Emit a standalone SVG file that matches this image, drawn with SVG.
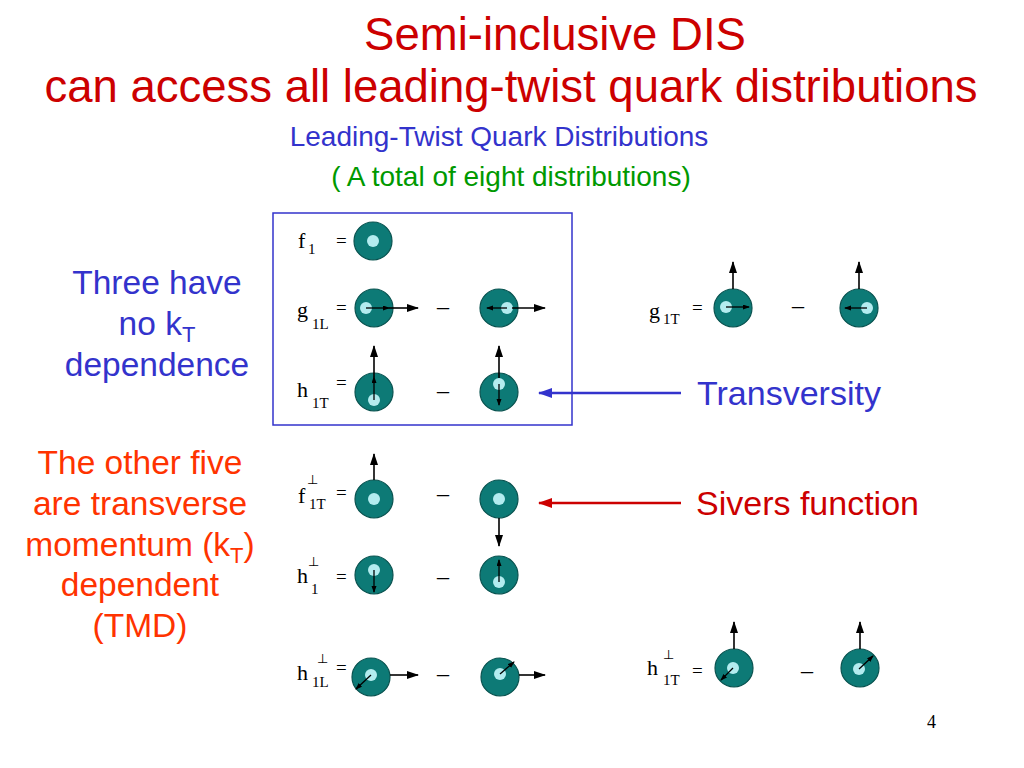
<svg xmlns="http://www.w3.org/2000/svg" width="1024" height="768" viewBox="0 0 1024 768">
<defs>
<marker id="big" markerUnits="userSpaceOnUse" markerWidth="12" markerHeight="9" refX="11" refY="4" orient="auto"><path d="M0,0 L12,4 L0,8 z" fill="#000"/></marker>
<marker id="sm" markerUnits="userSpaceOnUse" markerWidth="7" markerHeight="6" refX="6" refY="2.5" orient="auto"><path d="M0,0 L7,2.5 L0,5 z" fill="#000"/></marker>
<marker id="blueHead" markerUnits="userSpaceOnUse" markerWidth="14" markerHeight="10" refX="13" refY="5" orient="auto"><path d="M0,0 L14,5 L0,10 z" fill="#3333cc"/></marker>
<marker id="redHead" markerUnits="userSpaceOnUse" markerWidth="14" markerHeight="10" refX="13" refY="5" orient="auto"><path d="M0,0 L14,5 L0,10 z" fill="#cc0000"/></marker>
</defs>
<style>
.sans{font-family:"Liberation Sans",Arial,sans-serif}
.serif{font-family:"Liberation Serif","DejaVu Serif",serif;fill:#000}
.lab{font-size:22px}
.sub{font-size:15px}
.perp{font-size:13px;font-family:"DejaVu Sans","Liberation Serif",serif}
.eq{font-size:19px}
.mn{font-size:24px}
.q{fill:#0d7a76;stroke:#0a5350;stroke-width:1.2}
.d{fill:#b3ecef}
.a{stroke:#000;stroke-width:1.6;fill:none}
.asm{stroke:#000;stroke-width:1.3;fill:none}
</style>
<rect width="1024" height="768" fill="#fff"/>

<g id="title" class="sans" fill="#cc0000" font-size="45.5" text-anchor="middle">
<text x="555" y="50">Semi-inclusive DIS</text>
<text x="511" y="102">can access all leading-twist quark distributions</text>
</g>
<g id="subtitle" class="sans" text-anchor="middle">
<text x="499" y="146" font-size="28" fill="#3333cc">Leading-Twist Quark Distributions</text>
<text x="511" y="186" font-size="28" fill="#009900">( A total of eight distributions)</text>
</g>

<g id="note-three" class="sans" fill="#3333cc" font-size="33.5" text-anchor="middle">
<text x="157" y="294">Three have</text>
<text x="157" y="335">no k<tspan font-size="22" dy="7">T</tspan></text>
<text x="157" y="376">dependence</text>
</g>
<g id="note-five" class="sans" fill="#ff3300" font-size="33.5" text-anchor="middle">
<text x="140" y="474">The other five</text>
<text x="140" y="515">are transverse</text>
<text x="140" y="556">momentum (k<tspan font-size="22" dy="7">T</tspan><tspan dy="-7">)</tspan></text>
<text x="140" y="596">dependent</text>
<text x="140" y="637">(TMD)</text>
</g>

<g id="box">
<rect x="273" y="213" width="299" height="212" fill="none" stroke="#3333cc" stroke-width="1.5"/>
</g>

<g id="f1">
<text class="serif lab" x="298" y="248">f</text><text class="serif sub" x="308" y="254">1</text>
<text class="serif eq" x="336" y="247">=</text>
<circle class="q" cx="373" cy="241" r="19"/><circle class="d" cx="373" cy="241" r="6"/>
</g>

<g id="g1L">
<text class="serif lab" x="297" y="317">g</text><text class="serif sub" x="312" y="329">1L</text>
<text class="serif eq" x="336" y="314">=</text>
<circle class="q" cx="374" cy="308" r="19"/><circle class="d" cx="366" cy="308" r="6"/>
<line class="asm" x1="366" y1="308" x2="389" y2="308" marker-end="url(#sm)"/>
<line class="a" x1="389" y1="308" x2="418" y2="308" marker-end="url(#big)"/>
<text class="serif mn" x="437" y="314">–</text>
<circle class="q" cx="499" cy="308" r="19"/><circle class="d" cx="507" cy="308" r="6"/>
<line class="asm" x1="507" y1="308" x2="487" y2="308" marker-end="url(#sm)"/>
<line class="a" x1="512" y1="308" x2="545" y2="308" marker-end="url(#big)"/>
</g>

<g id="h1T">
<text class="serif lab" x="297" y="397">h</text><text class="serif sub" x="312" y="408">1T</text>
<text class="serif eq" x="336" y="389">=</text>
<circle class="q" cx="374" cy="392" r="19"/><circle class="d" cx="374" cy="400" r="6"/>
<line class="asm" x1="374" y1="400" x2="374" y2="377" marker-end="url(#sm)"/>
<line class="a" x1="374" y1="377" x2="374" y2="346" marker-end="url(#big)"/>
<text class="serif mn" x="437" y="398">–</text>
<circle class="q" cx="499" cy="392" r="19"/><circle class="d" cx="499" cy="384" r="6"/>
<line class="asm" x1="499" y1="384" x2="499" y2="405" marker-end="url(#sm)"/>
<line class="a" x1="499" y1="378" x2="499" y2="346" marker-end="url(#big)"/>
</g>

<g id="g1T">
<text class="serif lab" x="649" y="318">g</text><text class="serif sub" x="663" y="324">1T</text>
<text class="serif eq" x="692" y="314">=</text>
<circle class="q" cx="733" cy="308" r="19"/><circle class="d" cx="726" cy="307" r="6"/>
<line class="asm" x1="726" y1="307" x2="749" y2="307" marker-end="url(#sm)"/>
<line class="a" x1="733" y1="289" x2="733" y2="262" marker-end="url(#big)"/>
<text class="serif mn" x="792" y="313">–</text>
<circle class="q" cx="859" cy="308" r="19"/><circle class="d" cx="867" cy="308" r="6"/>
<line class="asm" x1="867" y1="308" x2="845" y2="308" marker-end="url(#sm)"/>
<line class="a" x1="859" y1="289" x2="859" y2="262" marker-end="url(#big)"/>
</g>

<g id="f1Tperp">
<text class="serif lab" x="298" y="503">f</text><text class="perp" x="307" y="484">⊥</text><text class="serif sub" x="309" y="509">1T</text>
<text class="serif eq" x="336" y="499">=</text>
<circle class="q" cx="374" cy="499" r="19"/><circle class="d" cx="374" cy="499" r="6"/>
<line class="a" x1="374" y1="480" x2="374" y2="454" marker-end="url(#big)"/>
<text class="serif mn" x="437" y="501">–</text>
<circle class="q" cx="499" cy="499" r="19"/><circle class="d" cx="499" cy="499" r="6"/>
<line class="a" x1="499" y1="518" x2="499" y2="546" marker-end="url(#big)"/>
</g>

<g id="h1perp">
<text class="serif lab" x="297" y="583">h</text><text class="perp" x="308" y="566">⊥</text><text class="serif sub" x="311" y="594">1</text>
<text class="serif eq" x="336" y="583">=</text>
<circle class="q" cx="374" cy="575" r="19"/><circle class="d" cx="374" cy="570" r="6"/>
<line class="asm" x1="374" y1="570" x2="374" y2="592" marker-end="url(#sm)"/>
<text class="serif mn" x="437" y="584">–</text>
<circle class="q" cx="499" cy="575" r="19"/><circle class="d" cx="499" cy="582" r="6"/>
<line class="asm" x1="499" y1="582" x2="499" y2="560" marker-end="url(#sm)"/>
</g>

<g id="h1Lperp">
<text class="serif lab" x="297" y="680">h</text><text class="perp" x="317" y="663">⊥</text><text class="serif sub" x="312" y="687">1L</text>
<text class="serif eq" x="336" y="674">=</text>
<circle class="q" cx="371" cy="677" r="19"/><circle class="d" cx="371" cy="675" r="6"/>
<line class="asm" x1="371" y1="675" x2="356" y2="689" marker-end="url(#sm)"/>
<line class="a" x1="390" y1="675" x2="418" y2="675" marker-end="url(#big)"/>
<text class="serif mn" x="437" y="681">–</text>
<circle class="q" cx="500" cy="677" r="19"/><circle class="d" cx="500" cy="674" r="6"/>
<line class="asm" x1="500" y1="674" x2="514" y2="662" marker-end="url(#sm)"/>
<line class="a" x1="519" y1="675" x2="545" y2="675" marker-end="url(#big)"/>
</g>

<g id="h1Tperp">
<text class="serif lab" x="647" y="675">h</text><text class="perp" x="663" y="659">⊥</text><text class="serif sub" x="663" y="685">1T</text>
<text class="serif eq" x="692" y="677">=</text>
<circle class="q" cx="734" cy="668" r="19"/><circle class="d" cx="733" cy="668" r="6"/>
<line class="asm" x1="733" y1="668" x2="721" y2="680" marker-end="url(#sm)"/>
<line class="a" x1="734" y1="649" x2="734" y2="622" marker-end="url(#big)"/>
<text class="serif mn" x="801" y="678">–</text>
<circle class="q" cx="860" cy="668" r="19"/><circle class="d" cx="859" cy="669" r="6"/>
<line class="asm" x1="859" y1="669" x2="873" y2="656" marker-end="url(#sm)"/>
<line class="a" x1="860" y1="649" x2="860" y2="622" marker-end="url(#big)"/>
</g>

<g id="connectors">
<line x1="681" y1="393" x2="539" y2="393" stroke="#3333cc" stroke-width="2.5" marker-end="url(#blueHead)"/>
<line x1="681" y1="503" x2="539" y2="503" stroke="#cc0000" stroke-width="2.5" marker-end="url(#redHead)"/>
</g>

<g id="label-transversity"><text class="sans" x="697" y="405" font-size="34" fill="#3333cc">Transversity</text></g>
<g id="label-sivers"><text class="sans" x="696" y="515" font-size="34" fill="#cc0000">Sivers function</text></g>

<g id="page"><text class="serif" x="927" y="728" font-size="18">4</text></g>
</svg>
